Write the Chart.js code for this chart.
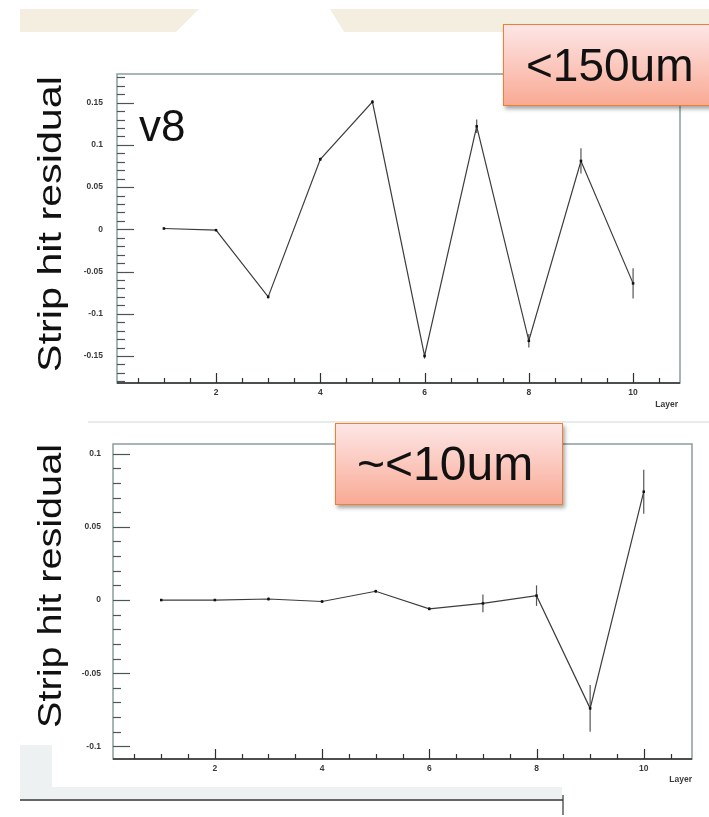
<!DOCTYPE html>
<html>
<head>
<meta charset="utf-8">
<script src="https://cdn.jsdelivr.net/npm/chart.js@4.4.1/dist/chart.umd.min.js"></script>
<style>
  html, body { margin: 0; padding: 0; background: #fff; }
  #slide { position: relative; width: 709px; height: 817px; overflow: hidden; font-family: "Liberation Sans", Arial, sans-serif; }
  #slide canvas, #slide svg { position: absolute; left: 0; }
  .callout {
    position: absolute;
    box-sizing: border-box;
    border: 1.5px solid #ee7f35;
    background: linear-gradient(#fde6e6, #f9aa95);
    box-shadow: 2px 3px 4px rgba(0, 0, 0, 0.35);
    color: #111;
    font-size: 46px;
    line-height: 1;
    display: flex;
    align-items: center;
  }
</style>
</head>
<body>
<div id="slide">
  <svg width="709" height="817" style="top:0">
    <polygon points="20,9 199,9 176,32 20,32" fill="#f3eee0"/>
    <polygon points="330,9 709,9 709,32 344,32" fill="#f3eee0"/>
    <line x1="88" y1="422" x2="709" y2="422" stroke="#dfe5e5" stroke-width="1.5"/>
    <path d="M20 745 H52 V787 H562 V799 H20 Z" fill="#eef1f1"/>
    <line x1="20" y1="800" x2="563" y2="800" stroke="#333" stroke-width="1.5"/>
    <line x1="563" y1="795" x2="563" y2="815" stroke="#333" stroke-width="1.2"/>
  </svg>
  <canvas id="topChart" width="709" height="420" style="top:0"></canvas>
  <canvas id="bottomChart" width="709" height="397" style="top:420px"></canvas>
  <div class="callout" style="left:503px; top:24px; width:215px; height:82px; padding-left:22px;">&lt;150um</div>
  <div class="callout" style="left:335px; top:423px; width:228px; height:82px; padding-left:21px; font-size:48px;">~&lt;10um</div>
</div>
<script>
// Residual per strip layer, two alignment passes
const layers = [1, 2, 3, 4, 5, 6, 7, 8, 9, 10];
const topResidual = [0.001, -0.001, -0.080, 0.083, 0.151, -0.150, 0.122, -0.132, 0.081, -0.064];
const topError = [0.001, 0.001, 0.002, 0.002, 0.002, 0.003, 0.008, 0.008, 0.015, 0.018];
const bottomResidual = [0.000, 0.000, 0.0007, -0.001, 0.006, -0.006, -0.0023, 0.003, -0.074, 0.074];
const bottomError = [0.0005, 0.0005, 0.001, 0.001, 0.001, 0.001, 0.006, 0.007, 0.016, 0.015];

const xTickValues = [2, 4, 6, 8, 10];
const xTickLabels = ['2', '4', '6', '8', '10'];
const topYTickValues = [0.15, 0.1, 0.05, 0, -0.05, -0.1, -0.15];
const topYTickLabels = ['0.15', '0.1', '0.05', '0', '-0.05', '-0.1', '-0.15'];
const bottomYTickValues = [0.1, 0.05, 0, -0.05, -0.1];
const bottomYTickLabels = ['0.1', '0.05', '0', '-0.05', '-0.1'];

const FRAME = '#8a9d9d';
const INK = '#2e2e2e';

// ROOT-style frame: inside ticks, small labels, big rotated title, error bars
const rootFrame = {
  id: 'rootFrame',
  beforeDatasetsDraw(chart, args, opts) {
    const { ctx, chartArea: a, scales: { x, y } } = chart;
    ctx.save();

    // frame
    ctx.strokeStyle = FRAME;
    ctx.lineWidth = 1.5;
    ctx.strokeRect(a.left, a.top, a.right - a.left, a.bottom - a.top);
    ctx.strokeStyle = INK;
    ctx.beginPath();
    ctx.moveTo(a.left, a.bottom);
    ctx.lineTo(a.right, a.bottom);
    ctx.stroke();

    // y ticks (minor every 0.01, major on labels)
    ctx.lineWidth = 1.2;
    ctx.strokeStyle = '#4a5656';
    for (let v = Math.ceil(y.min * 100); v <= Math.floor(y.max * 100); v++) {
      const py = Math.round(y.getPixelForValue(v / 100)) + 0.5;
      const major = opts.yTicks.some(t => Math.abs(t * 100 - v) < 1e-6);
      ctx.beginPath();
      ctx.moveTo(a.left, py);
      ctx.lineTo(a.left + (major ? 17 : 8), py);
      ctx.stroke();
    }

    // x ticks (minor every 0.5, major on labels)
    ctx.strokeStyle = INK;
    for (let v = 1; v <= 21; v++) {
      const val = v / 2;
      const px = Math.round(x.getPixelForValue(val)) + 0.5;
      const major = xTickValues.includes(val);
      ctx.beginPath();
      ctx.moveTo(px, a.bottom);
      ctx.lineTo(px, a.bottom - (major ? 10 : 5));
      ctx.stroke();
    }

    // tick labels
    ctx.fillStyle = '#3a3a3a';
    ctx.font = 'bold 8.5px "Liberation Sans", Arial, sans-serif';
    ctx.textAlign = 'center';
    ctx.textBaseline = 'middle';
    xTickValues.forEach((v, i) => ctx.fillText(xTickLabels[i], x.getPixelForValue(v), a.bottom + 10));
    ctx.textAlign = 'right';
    opts.yTicks.forEach((v, i) => ctx.fillText(opts.yLabels[i], a.left - opts.labelGap, y.getPixelForValue(v)));
    ctx.textAlign = 'right';
    ctx.fillText('Layer', a.right - opts.layerInset, a.bottom + opts.layerDrop);

    // axis title, stretched along its length like the exported plot
    ctx.save();
    ctx.translate(opts.titleX, opts.titleY);
    ctx.rotate(-Math.PI / 2);
    ctx.scale(opts.titleStretch, 1);
    ctx.textAlign = 'center';
    ctx.textBaseline = 'middle';
    ctx.fillStyle = '#111';
    ctx.font = '33px "Liberation Sans", Arial, sans-serif';
    ctx.fillText('Strip hit residual', 0, 0);
    ctx.restore();

    if (opts.tag) {
      ctx.fillStyle = '#111';
      ctx.textAlign = 'left';
      ctx.textBaseline = 'alphabetic';
      ctx.font = '44px "Liberation Sans", Arial, sans-serif';
      ctx.fillText(opts.tag, 139, 141);
    }

    // error bars
    ctx.strokeStyle = '#555';
    ctx.lineWidth = 1.2;
    opts.values.forEach((val, i) => {
      const px = x.getPixelForValue(layers[i]);
      ctx.beginPath();
      ctx.moveTo(px, y.getPixelForValue(val - opts.errors[i]));
      ctx.lineTo(px, y.getPixelForValue(val + opts.errors[i]));
      ctx.stroke();
    });
    ctx.restore();
  }
};

function makeChart(id, values, errors, yMin, yMax, padding, frameOpts) {
  return new Chart(document.getElementById(id), {
    type: 'line',
    data: {
      datasets: [{
        data: layers.map((l, i) => ({ x: l, y: values[i] })),
        borderColor: '#3c3c3c',
        borderWidth: 1.2,
        tension: 0,
        pointStyle: 'rect',
        pointRadius: 1.8,
        pointBorderWidth: 0,
        pointBackgroundColor: '#111'
      }]
    },
    options: {
      responsive: false,
      animation: false,
      layout: { padding },
      plugins: {
        legend: { display: false },
        tooltip: { enabled: false },
        rootFrame: Object.assign({ values, errors }, frameOpts)
      },
      scales: {
        x: { type: 'linear', display: false, min: 0.1, max: 10.9 },
        y: { type: 'linear', display: false, min: yMin, max: yMax }
      }
    },
    plugins: [rootFrame]
  });
}

makeChart('topChart', topResidual, topError, -0.182, 0.184,
  { left: 117, right: 29, top: 74, bottom: 37 },
  { yTicks: topYTickValues, yLabels: topYTickLabels, labelGap: 14, layerInset: 2, layerDrop: 22,
    titleX: 52, titleY: 224, titleStretch: 1.25, tag: 'v8' });

makeChart('bottomChart', bottomResidual, bottomError, -0.1086, 0.1066,
  { left: 113, right: 17, top: 24, bottom: 58 },
  { yTicks: bottomYTickValues, yLabels: bottomYTickLabels, labelGap: 12, layerInset: 0, layerDrop: 21,
    titleX: 52, titleY: 586 - 420, titleStretch: 1.2, tag: null });
</script>
</body>
</html>
